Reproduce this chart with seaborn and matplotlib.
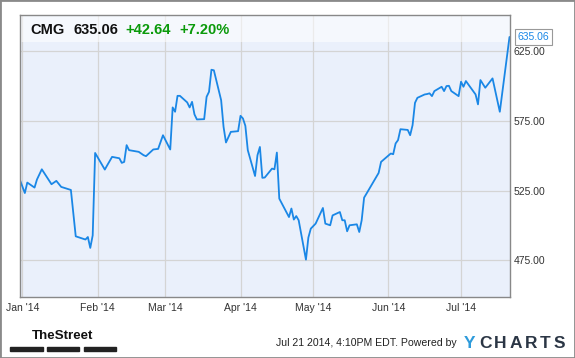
import pandas as pd
import matplotlib.pyplot as plt
import matplotlib.dates as mdates
from matplotlib.ticker import FormatStrFormatter
from matplotlib.patches import Rectangle
import seaborn as sns

# Texte de l'en-tête et du pied de page
ticker = "CMG"
last_price = "635.06"
change_abs = "+42.64"
change_pct = "+7.20%"
timestamp = "Jul 21 2014, 4:10PM EDT. Powered by"
brand = "YCHARTS"

# Cours de clôture
dates = [
    "2013-12-31",
    "2014-01-02", "2014-01-03", "2014-01-06", "2014-01-07", "2014-01-09", "2014-01-13",
    "2014-01-15", "2014-01-17", "2014-01-21", "2014-01-23", "2014-01-27", "2014-01-28",
    "2014-01-29", "2014-01-30", "2014-01-31",
    "2014-02-04", "2014-02-05", "2014-02-07", "2014-02-10", "2014-02-11", "2014-02-12",
    "2014-02-13", "2014-02-14", "2014-02-18", "2014-02-20", "2014-02-21", "2014-02-24",
    "2014-02-26", "2014-02-28",
    "2014-03-03", "2014-03-04", "2014-03-05", "2014-03-06", "2014-03-07", "2014-03-10",
    "2014-03-11", "2014-03-12", "2014-03-13", "2014-03-14", "2014-03-17", "2014-03-18",
    "2014-03-19", "2014-03-20", "2014-03-21", "2014-03-24", "2014-03-25", "2014-03-26",
    "2014-03-28", "2014-03-31",
    "2014-04-01", "2014-04-02", "2014-04-03", "2014-04-04", "2014-04-07", "2014-04-08",
    "2014-04-09", "2014-04-10", "2014-04-11", "2014-04-14", "2014-04-15", "2014-04-16",
    "2014-04-17", "2014-04-21", "2014-04-22", "2014-04-23", "2014-04-24", "2014-04-25",
    "2014-04-28", "2014-04-29", "2014-04-30",
    "2014-05-02", "2014-05-05", "2014-05-06", "2014-05-08", "2014-05-09", "2014-05-12",
    "2014-05-13", "2014-05-14", "2014-05-15", "2014-05-16", "2014-05-19", "2014-05-20",
    "2014-05-21", "2014-05-22", "2014-05-23", "2014-05-28", "2014-05-29",
    "2014-06-02", "2014-06-03", "2014-06-04", "2014-06-05", "2014-06-06", "2014-06-09",
    "2014-06-10", "2014-06-11", "2014-06-12", "2014-06-13", "2014-06-16", "2014-06-17",
    "2014-06-18", "2014-06-19", "2014-06-20", "2014-06-23", "2014-06-24", "2014-06-25",
    "2014-06-26", "2014-06-27", "2014-06-30",
    "2014-07-01", "2014-07-02", "2014-07-03", "2014-07-07", "2014-07-08", "2014-07-09",
    "2014-07-11", "2014-07-14", "2014-07-17", "2014-07-21",
]
prices = [
    532.5,
    523.3, 530.8, 527.2, 533.0, 540.3, 529.6, 532.0, 527.7, 525.5, 492.3, 490.0, 491.8,
    484.0, 493.0, 552.0,
    540.1, 543.2, 549.2, 548.2, 544.9, 545.6, 557.6, 554.0, 552.8, 550.4, 549.7, 554.5,
    554.9, 564.7,
    554.5, 584.6, 581.5, 592.9, 592.9, 588.2, 584.6, 588.6, 579.6, 576.0, 576.2, 592.2,
    595.8, 611.6, 611.2, 589.8, 570.7, 559.5, 567.1, 567.6,
    578.6, 576.7, 571.4, 554.0, 535.5, 550.4, 556.3, 534.2, 534.4, 540.8, 540.3, 552.3,
    519.3, 506.1, 512.2, 504.3, 506.8, 503.8, 475.6, 491.4, 497.8,
    501.4, 512.6, 501.4, 500.2, 507.3, 509.7, 503.8, 503.8, 495.9, 500.2, 500.9, 495.4,
    503.8, 520.0, 522.9, 537.7, 545.6,
    551.6, 551.1, 558.8, 561.2, 569.0, 568.5, 564.7, 571.9, 587.9, 591.5, 593.9, 594.2,
    594.7, 592.7, 596.3, 599.4, 596.3, 599.9, 600.1, 596.3, 592.7,
    603.0, 599.4, 603.5, 593.9, 586.8, 604.2, 598.7, 605.4, 581.5, 635.06,
]
y_ticks = [475, 525, 575, 625]
month_ticks = pd.date_range("2014-01-01", "2014-07-01", freq="MS")

W, H = 575, 358


def px(x, y):
    # pixels (origine en haut à gauche) -> fraction de figure
    return x / W, 1 - y / H


df = pd.DataFrame({"Date": pd.to_datetime(dates), "Price": prices})

sns.set_theme(style="whitegrid")
plt.rcParams["font.family"] = ["Liberation Sans", "DejaVu Sans"]

fig = plt.figure(figsize=(W / 100, H / 100), dpi=100, facecolor="white")
ax = fig.add_axes([20 / W, 1 - 296.5 / H, 489.5 / W, 281.5 / H])
ax.set_facecolor("#EAF0FB")

sns.lineplot(data=df, x="Date", y="Price", ax=ax, color="#1A87E6", linewidth=1.3)

ax.set_xlim(pd.Timestamp("2013-12-31"), pd.Timestamp("2014-07-21"))
ax.set_ylim(449.2, 650.8)
ax.set_xticks(month_ticks)
ax.xaxis.set_major_formatter(mdates.DateFormatter("%b '%y"))
ax.set_yticks(y_ticks)
ax.yaxis.set_major_formatter(FormatStrFormatter("%.2f"))
ax.yaxis.tick_right()
ax.tick_params(axis="both", length=0, labelsize=7.5, labelcolor="#333333")
ax.tick_params(axis="x", pad=5)
ax.tick_params(axis="y", pad=3)
ax.grid(True, color="#D4D4D4", linewidth=0.9)
for s in ax.spines.values():
    s.set_color("#888888")
    s.set_linewidth(1)
ax.set_xlabel("")
ax.set_ylabel("")

# bandeau clair en haut du graphique
ax.axhspan(631.5, 650.8, color="white", alpha=0.55, lw=0, zorder=1)

# étiquette du dernier cours
ax.annotate(last_price, xy=(df["Date"].iloc[-1], df["Price"].iloc[-1]),
            xytext=(6, 0), textcoords="offset points", ha="left", va="center",
            color="#1A87E6", fontsize=7.5, annotation_clip=False,
            bbox=dict(boxstyle="square,pad=0.25", fc="white", ec="#999999", lw=0.8))

# en-tête
fig.text(*px(30.7, 29.5), ticker, fontsize=10.5, fontweight="bold", color="#111111", va="center")
fig.text(*px(73.3, 29.5), last_price, fontsize=10.5, fontweight="bold", color="#111111", va="center")
fig.text(*px(125.3, 29.5), change_abs, fontsize=10.5, fontweight="bold", color="#0A9A0A", va="center")
fig.text(*px(179, 29.5), change_pct, fontsize=10.5, fontweight="bold", color="#0A9A0A", va="center")

# pied de page
fig.text(*px(63, 336), "TheStreet", fontsize=9.6, fontweight="bold", color="#111111",
         ha="center", va="center")
for x0, x1 in [(10, 42.5), (47, 79), (83.5, 116)]:
    fig.patches.append(Rectangle(px(x0, 350.7), (x1 - x0) / W, 3.4 / H,
                                 transform=fig.transFigure, color="#222222"))
fig.text(*px(276, 343), timestamp, fontsize=7.6, color="#222222", va="center")
letter_x = [470, 485, 500.5, 516, 531, 545.5, 559]
for ch, lx in zip(brand, letter_x):
    fig.text(*px(lx, 344), ch, fontsize=12.5, fontweight="bold", ha="center", va="center",
             color="#2E9BDB" if ch == "Y" else "#2B3645")

fig.patches.append(Rectangle((0, 0), 1, 1, transform=fig.transFigure, fill=False,
                             ec="#8A8A8A", lw=2))

fig.savefig("out.png", dpi=100)
